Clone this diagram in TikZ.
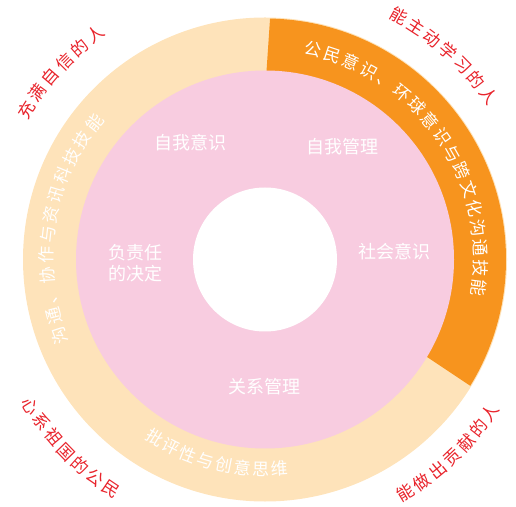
\documentclass[tikz,border=0pt]{standalone}
\usepackage{fontspec}
\newfontfamily\cjk{Noto Sans CJK SC}
\definecolor{peach}{HTML}{FEE3BA}
\definecolor{ringorange}{HTML}{F7941E}
\definecolor{pinkfill}{HTML}{F8CCE0}
\definecolor{redtxt}{HTML}{E8242C}
\begin{document}
\begin{tikzpicture}[x=1pt,y=1pt,
  chr/.style={inner sep=0pt, text height=0.88em, text depth=0.12em, font=\cjk\fontsize{17}{17}\selectfont},
  ringchr/.style={chr, text=white},
  redchr/.style={chr, text=redtxt},
  pinklabel/.style={inner sep=0pt, text=white, font=\cjk\fontsize{18}{21.5}\selectfont, align=center}]
\useasboundingbox (0,0) rectangle (516,506);
\coordinate (C) at (265,246.5);
% rings
\fill[peach] (C) circle (242);
\fill[ringorange] ([shift={(89.7:180)}]C) -- ([shift={(88.8:241)}]C) arc (88.8:-31.6:241)
  -- ([shift={(-30.9:180)}]C) -- cycle;
\fill[pinkfill] (C) circle (189);
\fill[white] (C) circle (72);
% pink labels
\node[pinklabel] (sa) at (190,363.5) {自我意识};
\node[pinklabel] (sm) at (342.5,359) {自我管理};
\node[pinklabel] (so) at (394,254.3) {社会意识};
\node[pinklabel] (rd) at (135,242.7) {负责任\\的决定};
\node[pinklabel] (rm) at (264,119.5) {关系管理};
% orange ring text (clockwise)
\foreach[count=\i from 0] \c in {公,民,意,识,、,环,球,意,识,与,跨,文,化,沟,通,技,能}{
  \pgfmathsetmacro\a{77-5.28*\i}
  \node[ringchr, rotate=\a-90] (o\i) at ([shift={(\a:213)}]C) {\c};
}
% left ring text (clockwise)
\foreach[count=\i from 0] \c in {沟,通,、,协,作,与,资,讯,科,技,技,能}{
  \pgfmathsetmacro\a{200.3-5.36*\i}
  \node[ringchr, rotate=\a-90] (l\i) at ([shift={(\a:216)}]C) {\c};
}
% bottom ring text (counter-clockwise)
\foreach[count=\i from 0] \c in {批,评,性,与,创,意,思,维}{
  \pgfmathsetmacro\a{238.2+5.13*\i}
  \node[ringchr, rotate=\a+90] (b\i) at ([shift={(\a:212)}]C) {\c};
}
% red outer labels
\foreach[count=\i from 0] \c in {充,满,自,信,的,人}{
  \pgfmathsetmacro\a{148-4.2*\i}
  \node[redchr, rotate=\a-90] (ra\i) at ([shift={(\a:279)}]C) {\c};
}
\foreach[count=\i from 0] \c in {能,主,动,学,习,的,人}{
  \pgfmathsetmacro\a{61.2-4.15*\i}
  \node[redchr, rotate=\a-90] (rb\i) at ([shift={(\a:275)}]C) {\c};
}
\foreach[count=\i from 0] \c in {心,系,祖,国,的,公,民}{
  \pgfmathsetmacro\a{212+4.03*\i}
  \node[redchr, rotate=\a+90] (rc\i) at ([shift={(\a:279)}]C) {\c};
}
\foreach[count=\i from 0] \c in {能,做,出,贡,献,的,人}{
  \pgfmathsetmacro\a{301.1+4.12*\i}
  \node[redchr, rotate=\a+90] (rd\i) at ([shift={(\a:275)}]C) {\c};
}
\end{tikzpicture}
\end{document}
